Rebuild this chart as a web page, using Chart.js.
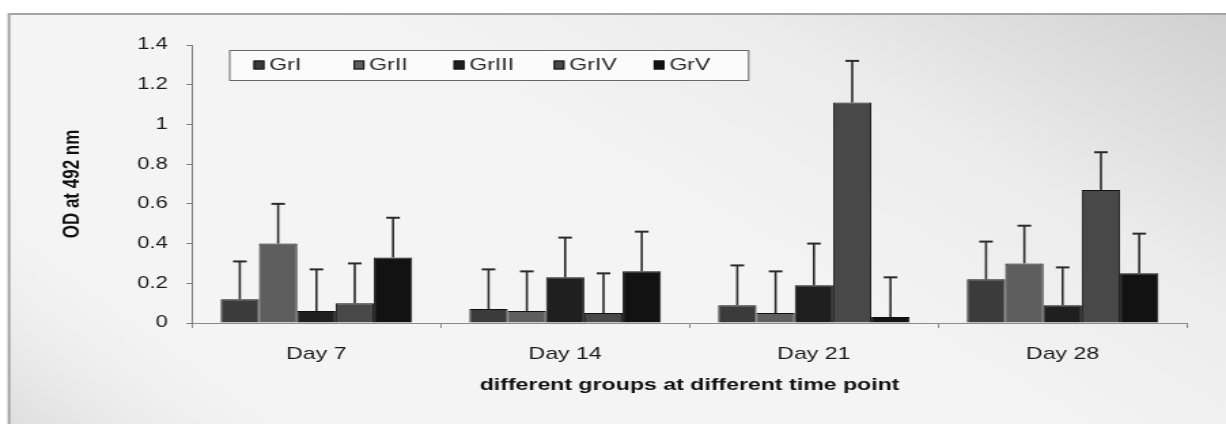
<!DOCTYPE html>
<html>
<head>
<meta charset="utf-8">
<script src="https://cdn.jsdelivr.net/npm/chart.js@4"></script>
<style>
  html, body { margin: 0; padding: 0; background: #ffffff; overflow: hidden; }
  #wrap { width: 902px; height: 424px; transform: scaleX(1.3592); transform-origin: 0 0; }
  canvas { display: block; }
</style>
</head>
<body>
<div id="wrap"><canvas id="c" width="902" height="424"></canvas></div>
<script>
// Time points on the x axis
const categories = ['Day 7', 'Day 14', 'Day 21', 'Day 28'];

// Group names
const groupNames = ['GrI', 'GrII', 'GrIII', 'GrIV', 'GrV'];

// Mean OD at 492 nm per group
const grI   = [0.12, 0.07, 0.09, 0.22];
const grII  = [0.40, 0.06, 0.05, 0.30];
const grIII = [0.06, 0.23, 0.19, 0.09];
const grIV  = [0.10, 0.05, 1.11, 0.67];
const grV   = [0.33, 0.26, 0.03, 0.25];

// Upper error (SD) per group
const errI   = [0.19, 0.20, 0.20, 0.19];
const errII  = [0.20, 0.20, 0.21, 0.19];
const errIII = [0.21, 0.20, 0.21, 0.19];
const errIV  = [0.20, 0.20, 0.21, 0.19];
const errV   = [0.20, 0.20, 0.20, 0.20];

// Y axis ticks
const yTicks = [0, 0.2, 0.4, 0.6, 0.8, 1, 1.2, 1.4];

const fills = ['#3b3b3b', '#5e5e5e', '#1f1f1f', '#484848', '#121212'];
const seriesValues = [grI, grII, grIII, grIV, grV];
const seriesErrors = [errI, errII, errIII, errIV, errV];

const datasets = groupNames.map((name, i) => ({
  label: name,
  data: seriesValues[i],
  errors: seriesErrors[i],
  backgroundColor: fills[i],
  borderColor: '#111111',
  borderWidth: 1,
  categoryPercentage: 0.77,
  barPercentage: 1.0
}));

const FONT = '"Liberation Sans", Arial, sans-serif';

// Grey gradient panel with a thin frame
const panelBackground = {
  id: 'panelBackground',
  beforeDraw(chart) {
    const ctx = chart.ctx, W = chart.width, H = chart.height;
    ctx.save();
    ctx.fillStyle = '#ffffff';
    ctx.fillRect(0, 0, W, H);
    const fx = 6.6, fy = 14;
    const g = ctx.createLinearGradient(W, 0, W - 260, 330);
    g.addColorStop(0, '#cfcfcf');
    g.addColorStop(0.55, '#ececec');
    g.addColorStop(1, '#f4f4f4');
    ctx.fillStyle = g;
    ctx.fillRect(fx, fy, W - fx, H - fy);
    const g2 = ctx.createLinearGradient(0, H, 120, H - 120);
    g2.addColorStop(0, 'rgba(215,215,215,0.8)');
    g2.addColorStop(1, 'rgba(240,240,240,0)');
    ctx.fillStyle = g2;
    ctx.fillRect(fx, fy, W - fx, H - fy);
    ctx.strokeStyle = '#a4a4a4';
    ctx.lineWidth = 2;
    ctx.beginPath();
    ctx.moveTo(fx, H);
    ctx.lineTo(fx, fy);
    ctx.lineTo(W, fy);
    ctx.stroke();
    ctx.restore();
  }
};

// One-sided upper error bars with caps
const errorBars = {
  id: 'errorBars',
  afterDatasetsDraw(chart) {
    const ctx = chart.ctx, y = chart.scales.y;
    ctx.save();
    ctx.strokeStyle = '#2a2a2a';
    chart.data.datasets.forEach((ds, di) => {
      const meta = chart.getDatasetMeta(di);
      meta.data.forEach((bar, i) => {
        const top = y.getPixelForValue(ds.data[i] + ds.errors[i]);
        const base = bar.y;
        ctx.lineWidth = 1.6;
        ctx.beginPath();
        ctx.moveTo(bar.x, base);
        ctx.lineTo(bar.x, top);
        ctx.stroke();
        ctx.lineWidth = 2;
        ctx.beginPath();
        ctx.moveTo(bar.x - 5, top);
        ctx.lineTo(bar.x + 5, top);
        ctx.stroke();
      });
    });
    ctx.restore();
  }
};

// Boxed legend in the upper left of the plot
const boxLegend = {
  id: 'boxLegend',
  afterDraw(chart) {
    const ctx = chart.ctx;
    const bx = 168.5, by = 50, bw = 381.8, bh = 30;
    ctx.save();
    ctx.fillStyle = '#fbfbfb';
    ctx.fillRect(bx, by, bw, bh);
    ctx.strokeStyle = '#666666';
    ctx.lineWidth = 1;
    ctx.strokeRect(bx + 0.5, by + 0.5, bw, bh);
    ctx.font = '17px ' + FONT;
    ctx.textBaseline = 'middle';
    chart.data.datasets.forEach((ds, i) => {
      const sx = bx + 18 + i * 73.6;
      const cy = by + bh / 2;
      ctx.fillStyle = ds.backgroundColor;
      ctx.fillRect(sx, cy - 4.5, 8, 9);
      ctx.strokeStyle = '#111111';
      ctx.strokeRect(sx + 0.5, cy - 4, 7, 8);
      ctx.fillStyle = '#2a2a2a';
      ctx.fillText(ds.label, sx + 11.5, cy + 0.5);
    });
    ctx.restore();
  }
};

new Chart(document.getElementById('c'), {
  type: 'bar',
  data: { labels: categories, datasets: datasets },
  plugins: [panelBackground, errorBars, boxLegend],
  options: {
    responsive: false,
    devicePixelRatio: 1,
    animation: false,
    layout: { padding: { left: 0, right: 28.7, top: 45, bottom: 0 } },
    plugins: { legend: { display: false }, tooltip: { enabled: false } },
    scales: {
      x: {
        offset: true,
        afterFit(scale) { scale.height = 101; },
        border: { display: true, color: '#8a8a8a', width: 1 },
        grid: { display: true, drawOnChartArea: false, offset: true, tickLength: 5, color: '#8a8a8a' },
        ticks: { color: '#1a1a1a', padding: 16, font: { family: FONT, size: 17 } },
        title: {
          display: true,
          text: 'different groups at different time point',
          color: '#111111',
          padding: { top: 0, bottom: 28 },
          font: { family: FONT, size: 17, weight: 'bold' }
        }
      },
      y: {
        min: 0,
        max: 1.4,
        afterFit(scale) { scale.width = 141.3; },
        afterBuildTicks(scale) { scale.ticks = yTicks.map(v => ({ value: v })); },
        border: { display: true, color: '#7a7a7a', width: 1 },
        grid: { display: true, drawOnChartArea: false, tickLength: 4, color: '#7a7a7a' },
        ticks: {
          color: '#1a1a1a',
          padding: 14,
          font: { family: FONT, size: 16 },
          callback: v => String(v)
        },
        title: {
          display: true,
          text: 'OD at 492 nm',
          color: '#111111',
          padding: { top: 43, bottom: 0 },
          font: { family: FONT, size: 17, weight: 'bold' }
        }
      }
    }
  }
});
</script>
</body>
</html>
